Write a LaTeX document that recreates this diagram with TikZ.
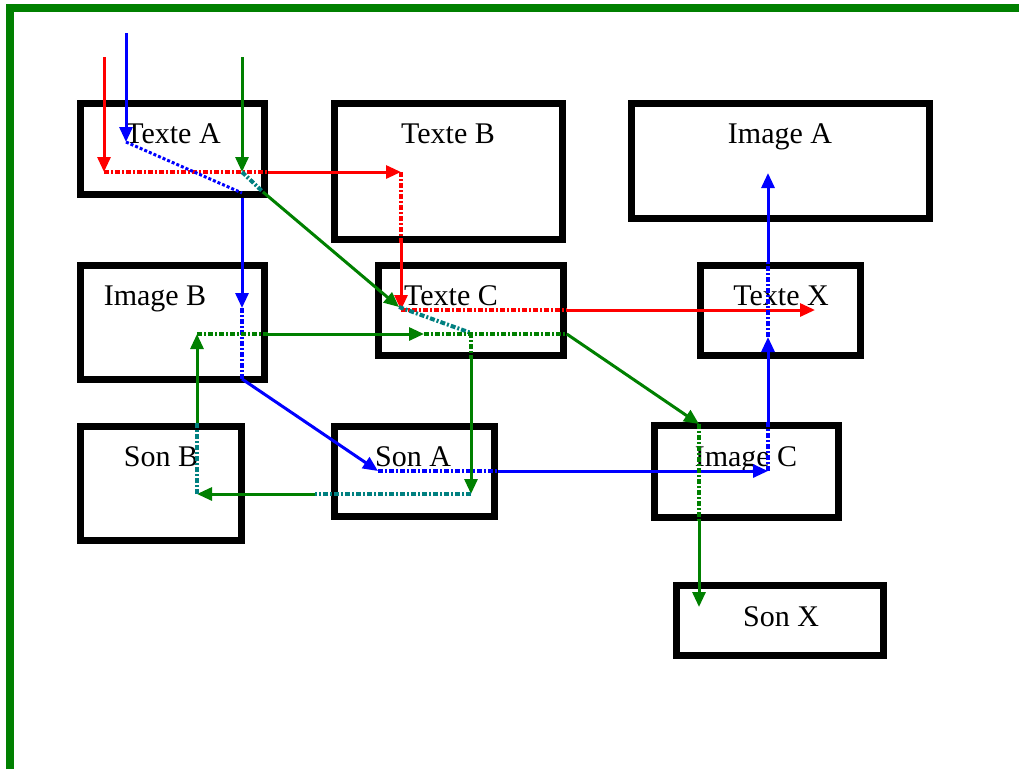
\documentclass[tikz,border=0pt]{standalone}
\usepackage{fontspec}
\setmainfont{Liberation Serif}
\usepackage{tikz}
\usetikzlibrary{shapes, arrows, arrows.meta, positioning}
\definecolor{vert}{RGB}{0,128,0}
\definecolor{sarcelle}{RGB}{0,128,128}

\begin{document}
\begin{tikzpicture}[x=1pt,y=-1pt,
        boite/.style={draw, line width=6.5pt, inner sep=0pt},
        titre/.style={anchor=base, inner sep=0pt, font=\fontsize{30}{32}\selectfont},
        fleche/.style={line width=3pt, -{Triangle[length=15pt,width=13pt]}},
        pointille/.style={line width=4pt, dash pattern=on 5pt off 2pt on 2pt off 2pt}]
        \useasboundingbox (0,0) rectangle (1019,769);
        % Cadre
        \draw[vert, line width=8pt] (10,769) -- (10,8) -- (1019,8);
        % Boites
        \node[boite, minimum width=184pt, minimum height=91pt] (texteA) at (172.5,149) {};
        \node[boite, minimum width=228pt, minimum height=136pt] (texteB) at (448.5,171.5) {};
        \node[boite, minimum width=298pt, minimum height=115pt] (imageA) at (780.5,161) {};
        \node[boite, minimum width=184pt, minimum height=114pt] (imageB) at (172.5,322.5) {};
        \node[boite, minimum width=185pt, minimum height=90pt] (texteC) at (471,310.5) {};
        \node[boite, minimum width=160pt, minimum height=90pt] (texteX) at (780.5,310.5) {};
        \node[boite, minimum width=161pt, minimum height=114pt] (sonB) at (161,483.5) {};
        \node[boite, minimum width=160pt, minimum height=90pt] (sonA) at (414.5,471.5) {};
        \node[boite, minimum width=184pt, minimum height=92pt] (imageC) at (746.5,471.5) {};
        \node[boite, minimum width=207pt, minimum height=70pt] (sonX) at (780,620.5) {};
        % Titres
        \node[titre] (tTexteA) at (173,143) {Texte A};
        \node[titre] (tTexteB) at (448,143) {Texte B};
        \node[titre] (tImageA) at (780,143) {Image A};
        \node[titre] (tImageB) at (155,305) {Image B};
        \node[titre] (tTexteC) at (451,305) {Texte C};
        \node[titre] (tTexteX) at (781,305) {Texte X};
        \node[titre] (tSonB) at (161,466) {Son B};
        \node[titre] (tSonA) at (413,466) {Son A};
        \node[titre] (tImageC) at (746,466) {Image C};
        \node[titre] (tSonX) at (781,626) {Son X};
        % Points de passage
        \coordinate (r0) at (104,57);
        \coordinate (r1) at (104,172);
        \coordinate (r2) at (401,172);
        \coordinate (r3) at (401,310);
        \coordinate (r4) at (815,310);
        \coordinate (b0) at (126,33);
        \coordinate (b1) at (126,142);
        \coordinate (b2) at (242,193);
        \coordinate (b3) at (242,308);
        \coordinate (b4) at (242,379);
        \coordinate (b5) at (378,471);
        \coordinate (b6) at (768,471);
        \coordinate (b7) at (768,337);
        \coordinate (b8) at (768,173);
        \coordinate (g0) at (242,57);
        \coordinate (g1) at (242,172);
        \coordinate (g1b) at (263,192);
        \coordinate (g2) at (399,307);
        \coordinate (g3) at (471,333);
        \coordinate (g4) at (471,494);
        \coordinate (g4b) at (315,494);
        \coordinate (g5) at (197,494);
        \coordinate (g6) at (197,334);
        \coordinate (g7) at (424,334);
        \coordinate (g8) at (699,424);
        \coordinate (g9) at (699,607);
        % Chemin rouge
        \draw[red, fleche] (r0) -- (r1);
        \draw[red, pointille] (r1) -- (texteA.east |- r1);
        \draw[red, fleche] (texteA.east |- r1) -- (r2);
        \draw[red, pointille] (r2) -- (r2 |- texteB.south);
        \draw[red, fleche] (r2 |- texteB.south) -- (r3);
        \draw[red, pointille] (r3) -- (texteC.east |- r3);
        \draw[red, fleche] (texteC.east |- r3) -- (r4);
        % Chemin bleu
        \draw[blue, fleche] (b0) -- (b1);
        \draw[blue, pointille, line width=3pt, dash pattern=on 3pt off 2pt] (b1) -- (b2);
        \draw[blue, fleche] (b2 |- texteA.south) -- (b3);
        \draw[blue, pointille] (b3) -- (b4);
        \draw[blue, fleche] (b4) -- (b5);
        \draw[blue, pointille] (b5) -- (sonA.east |- b5);
        \draw[blue, fleche] (sonA.east |- b5) -- (b6);
        \draw[blue, pointille] (b6) -- (b6 |- imageC.north);
        \draw[blue, fleche] (b6 |- imageC.north) -- (b7);
        \draw[blue, pointille] (b7) -- (b7 |- texteX.north);
        \draw[blue, fleche] (b7 |- texteX.north) -- (b8);
        % Chemin vert
        \draw[vert, fleche] (g0) -- (g1);
        \draw[sarcelle, pointille] (g1) -- (g1b);
        \draw[vert, fleche] (g1b) -- (g2);
        \draw[sarcelle, pointille] (g2) -- (g3);
        \draw[vert, pointille] (g3) -- (g3 |- texteC.south);
        \draw[vert, fleche] (g3 |- texteC.south) -- (g4);
        \draw[sarcelle, pointille] (g4) -- (g4b);
        \draw[vert, fleche] (g4b) -- (g5);
        \draw[sarcelle, pointille] (g5) -- (g5 |- sonB.north);
        \draw[vert, fleche] (g5 |- sonB.north) -- (g6);
        \draw[vert, pointille] (g6) -- (imageB.east |- g6);
        \draw[vert, fleche] (imageB.east |- g6) -- (g7);
        \draw[vert, pointille] (g7) -- (texteC.east |- g7);
        \draw[vert, fleche] (texteC.east |- g7) -- (g8);
        \draw[vert, pointille] (g8) -- (g8 |- imageC.south);
        \draw[vert, fleche] (g8 |- imageC.south) -- (g9);
    \end{tikzpicture}
\end{document}
